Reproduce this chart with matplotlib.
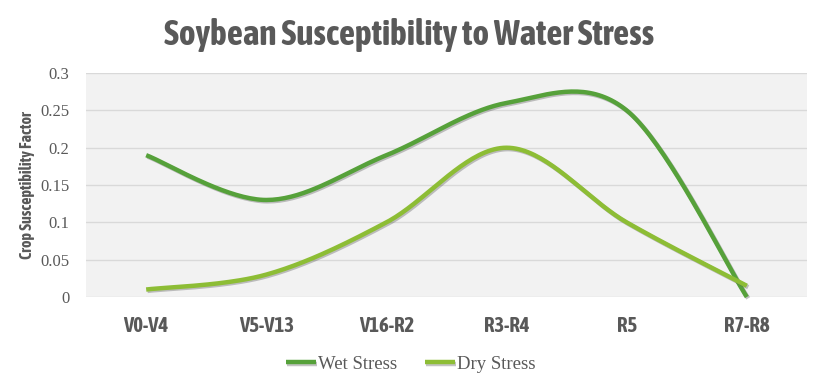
import numpy as np
import matplotlib
matplotlib.use("Agg")
import matplotlib.pyplot as plt
import matplotlib.patheffects as pe
from matplotlib import font_manager

# data
stages = ["V0-V4", "V5-V13", "V16-R2", "R3-R4", "R5", "R7-R8"]
wet_stress = [0.19, 0.13, 0.19, 0.26, 0.25, 0.0]
dry_stress = [0.01, 0.03, 0.10, 0.20, 0.10, 0.015]
y_ticks = [0, 0.05, 0.1, 0.15, 0.2, 0.25, 0.3]
y_tick_labels = ["0", "0.05", "0.1", "0.15", "0.2", "0.25", "0.3"]

# look for a bold condensed face (the reference uses a narrow display font)
cands = []
for f in font_manager.fontManager.ttflist:
    nm = (f.name + " " + str(f.fname)).lower()
    if ("condensed" in nm or "narrow" in nm or f.stretch in ("condensed", "semi-condensed", "extra-condensed")) \
            and f.weight in (600, 700, 800, "bold", "semibold"):
        cands.append(f)
cands.sort(key=lambda f: ("extra" in str(f.fname).lower(), "dejavu" in f.name.lower()))
if cands:
    narrow = font_manager.FontProperties(fname=cands[0].fname)
    scale = 1.0
else:
    narrow = font_manager.FontProperties(family="DejaVu Sans", weight="bold")
    scale = 0.8
serif = "Liberation Serif"

GREY = "#595959"
WET = "#56a13a"
DRY = "#8dbd35"


def smooth(y, n=40):
    # Excel-like smoothed line: cubic Bezier segments, control points from neighbours
    pts = np.column_stack([np.arange(len(y), dtype=float), np.asarray(y, float)])
    t = np.linspace(0, 1, n)[:, None]
    out = []
    for i in range(len(pts) - 1):
        p0 = pts[max(i - 1, 0)]
        p1 = pts[i]
        p2 = pts[i + 1]
        p3 = pts[min(i + 2, len(pts) - 1)]
        c1 = p1 + (p2 - p0) / 6
        c2 = p2 - (p3 - p1) / 6
        seg = (1 - t) ** 3 * p1 + 3 * (1 - t) ** 2 * t * c1 + 3 * (1 - t) * t ** 2 * c2 + t ** 3 * p2
        out.append(seg if i == 0 else seg[1:])
    s = np.vstack(out)
    return s[:, 0], s[:, 1]


def nfont(size):
    p = narrow.copy()
    p.set_size(size * scale)
    p.set_weight("bold")
    return p


fig = plt.figure(figsize=(8.2, 3.87), dpi=100)
ax = fig.add_axes([0.105, 0.2326, 0.879, 0.5785])
ax.set_facecolor("#f2f2f2")

shadow = [pe.SimpleLineShadow(offset=(1, -1), alpha=0.35, shadow_color="#555555"), pe.Normal()]
for vals, col, name in [(wet_stress, WET, "Wet Stress"), (dry_stress, DRY, "Dry Stress")]:
    xs, ys = smooth(vals)
    ax.plot(xs, ys, color=col, lw=3.2, solid_capstyle="butt", label=name,
            path_effects=shadow, zorder=3, clip_on=False)

ax.set_xlim(-0.5, len(stages) - 0.5)
ax.set_ylim(0, 0.3)
ax.set_yticks(y_ticks)
ax.set_yticklabels(y_tick_labels, fontfamily=serif, fontsize=12, color=GREY)
ax.set_xticks(range(len(stages)))
ax.set_xticklabels(stages, fontproperties=nfont(15), color=GREY)
ax.tick_params(axis="both", length=0)
ax.tick_params(axis="x", pad=14)
ax.tick_params(axis="y", pad=12)
ax.grid(axis="y", color="#d9d9d9", lw=1)
ax.set_axisbelow(True)
for s in ax.spines.values():
    s.set_visible(False)

ax.set_ylabel("Crop Susceptibility Factor", fontproperties=nfont(11.5), color=GREY, labelpad=4)

fig.text(0.499, 0.91, "Soybean Susceptibility to Water Stress", ha="center", va="center",
         fontproperties=nfont(25.5), color=GREY)

leg = ax.legend(loc="center", bbox_to_anchor=(0.45, -0.3), ncol=2, frameon=False,
                handlelength=1.6, handletextpad=0.1, columnspacing=1.5,
                prop={"family": serif, "size": 13.5})
for t in leg.get_texts():
    t.set_color(GREY)

fig.savefig("out.png", dpi=100)
